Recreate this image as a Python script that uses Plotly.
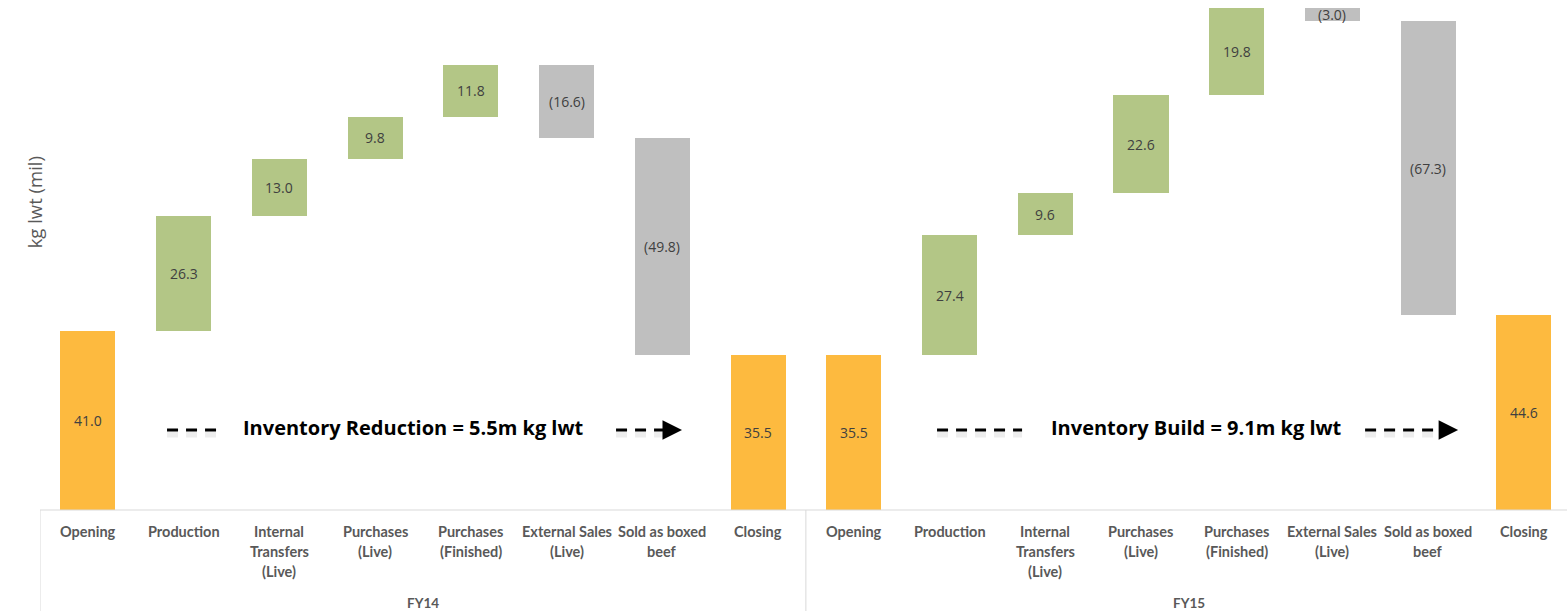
import plotly.graph_objects as go

categories = ["Opening", "Production", "Internal<br>Transfers<br>(Live)", "Purchases<br>(Live)",
              "Purchases<br>(Finished)", "External Sales<br>(Live)", "Sold as boxed<br>beef", "Closing"]
groups = ["FY14", "FY15"]
fy14_values = [41.0, 26.3, 13.0, 9.8, 11.8, -16.6, -49.8, 35.5]
fy15_values = [35.5, 27.4, 9.6, 22.6, 19.8, -3.0, -67.3, 44.6]
kinds = ["total", "up", "up", "up", "up", "down", "down", "total"]
notes = ["Inventory Reduction = 5.5m kg lwt", "Inventory Build = 9.1m kg lwt"]

ORANGE = "#FDBA3F"
GREEN = "#B3C686"
GREY = "#BFBFBF"
colors = {"total": ORANGE, "up": GREEN, "down": GREY}

xs, bases, heights, cols, labels = [], [], [], [], []
for g, vals in enumerate([fy14_values, fy15_values]):
    running = 0.0
    for i, (v, k) in enumerate(zip(vals, kinds)):
        x = g * len(categories) + i
        if k == "total":
            base, h = 0.0, v
            running = v
            lab = f"{v:.1f}"
        elif v >= 0:
            base, h = running, v
            running += v
            lab = f"{v:.1f}"
        else:
            base, h = running + v, -v
            running += v
            lab = f"({-v:.1f})"
        xs.append(x); bases.append(base); heights.append(h); cols.append(colors[k]); labels.append(lab)

fig = go.Figure()
fig.add_trace(go.Bar(x=xs, y=heights, base=bases, marker=dict(color=cols, line=dict(width=0)),
                     width=0.575, hoverinfo="skip"))

n = len(xs)
ymax = 116.8
XMAX = 15.45
annotations = []
for x, b, h, lab in zip(xs, bases, heights, labels):
    annotations.append(dict(x=x, y=b + h / 2, text=lab, showarrow=False, xref="x", yref="y",
                            font=dict(family="Open Sans", size=14, color="#404040")))

# category labels (one annotation per line)
for x in range(n):
    lines = categories[x % len(categories)].split("<br>")
    for j, line in enumerate(lines):
        annotations.append(dict(x=x, y=0, yshift=-21 - 20 * j, xref="x", yref="paper",
                                text=f"<b>{line}</b>", showarrow=False, yanchor="middle",
                                font=dict(family="Lato", size=14.5, color="#595959")))

for g, name in enumerate(groups):
    annotations.append(dict(x=g * 8 + 3.5, y=0, yshift=-93, xref="x", yref="paper", text=f"<b>{name}</b>",
                            showarrow=False, yanchor="middle",
                            font=dict(family="Lato", size=13.5, color="#595959")))

# y axis title
annotations.append(dict(x=-0.0125, y=0.604, xref="paper", yref="paper", text="kg lwt (mil)", textangle=-90,
                        showarrow=False, font=dict(family="Open Sans", size=18.5, color="#595959")))

shapes = []
# annotation arrows: left dash start/end, text centre, right dash start, arrow tip
arrow_specs = [(0.827, 1.401, 3.402, 5.517, 6.206), (8.870, 9.758, 11.576, 13.341, 14.313)]
ya = 18.3
for (l0, l1, tc, r0, r1), note in zip(arrow_specs, notes):
    for dy, col, w in [(-1.0, "rgba(0,0,0,0.07)", 6), (0, "black", 3)]:
        shapes.append(dict(type="line", xref="x", yref="y", x0=l0, x1=l1, y0=ya + dy, y1=ya + dy,
                           line=dict(color=col, width=w, dash="11px,8px")))
        shapes.append(dict(type="line", xref="x", yref="y", x0=r0, x1=r1 - 0.15, y0=ya + dy, y1=ya + dy,
                           line=dict(color=col, width=w, dash="11px,8px")))
    annotations.append(dict(x=r1, y=ya, ax=r1 - 0.16, ay=ya, xref="x", yref="y", axref="x", ayref="y",
                            text="", showarrow=True, arrowhead=2, arrowsize=1.3, arrowwidth=3,
                            arrowcolor="black"))
    annotations.append(dict(x=tc, y=ya + 0.5, xref="x", yref="y", text=f"<b>{note}</b>", showarrow=False,
                            font=dict(family="Open Sans", size=20, color="black")))

# axis lines and group separators
LC = "#D9D9D9"
shapes.append(dict(type="line", xref="paper", yref="paper", x0=0, x1=1, y0=0, y1=0,
                   line=dict(color=LC, width=1)))
for xv in [-0.5, 7.5]:
    shapes.append(dict(type="line", xref="x", yref="paper", x0=xv, x1=xv, y0=0, y1=-101 / 510,
                       line=dict(color=LC, width=1)))

fig.update_layout(
    width=1567, height=611,
    margin=dict(l=40, r=0, t=0, b=101),
    plot_bgcolor="white", paper_bgcolor="white",
    showlegend=False,
    xaxis=dict(range=[-0.5, XMAX], showticklabels=False, showgrid=False, zeroline=False, showline=False,
               ticks=""),
    yaxis=dict(range=[0, ymax], showticklabels=False, showgrid=False, zeroline=False, showline=False,
               ticks=""),
    annotations=annotations,
    shapes=shapes,
    bargap=0,
)

fig.write_html("out.html")
